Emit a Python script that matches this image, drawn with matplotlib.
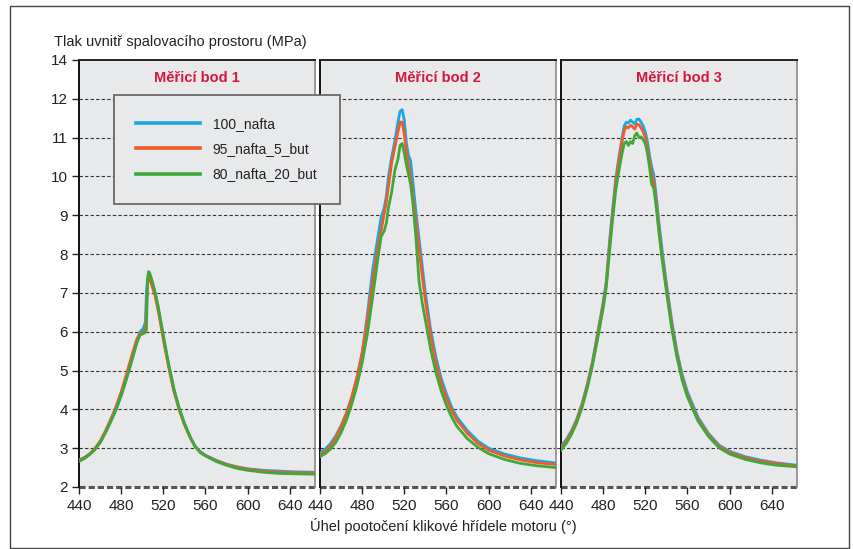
import matplotlib
matplotlib.use("Agg")
import matplotlib.pyplot as plt
from matplotlib.patches import Rectangle

plt.rcParams['font.family'] = ['Liberation Sans', 'DejaVu Sans']

# ---------------- data ----------------
series_names = ["100_nafta", "95_nafta_5_but", "80_nafta_20_but"]
panel_titles = ["Měřicí bod 1", "Měřicí bod 2", "Měřicí bod 3"]
x_ticks = [440, 480, 520, 560, 600, 640]
y_ticks = [2, 3, 4, 5, 6, 7, 8, 9, 10, 11, 12, 13]
y_tick_labels = ["2", "3", "4", "5", "6", "7", "8", "9", "10", "11", "12", "14"]
y_label = "Tlak uvnitř spalovacího prostoru (MPa)"
x_label = "Úhel pootočení klikové hřídele motoru (°)"

# panel 1
angle_1 = [440, 445, 450, 455, 460, 465, 470, 475, 480, 485, 490, 495, 498, 501, 503, 504,
           505, 506, 507, 509, 512, 515, 518, 521, 525, 530, 535, 540, 545, 550, 555, 560,
           570, 580, 590, 600, 615, 630, 645, 664]
p1_100 = [2.70, 2.76, 2.85, 2.97, 3.15, 3.40, 3.68, 3.98, 4.35, 4.78, 5.25, 5.75, 6.00, 6.08, 6.25, 7.00,
          7.35, 7.42, 7.40, 7.25, 7.00, 6.62, 6.18, 5.72, 5.15, 4.52, 4.03, 3.64, 3.32, 3.06, 2.91, 2.82,
          2.69, 2.59, 2.52, 2.47, 2.43, 2.41, 2.39, 2.38]
p1_95 = [2.68, 2.75, 2.85, 2.99, 3.18, 3.44, 3.74, 4.06, 4.45, 4.90, 5.38, 5.82, 5.95, 6.00, 6.05, 6.50,
         7.25, 7.38, 7.36, 7.20, 6.95, 6.57, 6.12, 5.66, 5.10, 4.47, 3.99, 3.61, 3.30, 3.05, 2.90, 2.81,
         2.68, 2.58, 2.51, 2.46, 2.41, 2.38, 2.37, 2.36]
p1_80 = [2.66, 2.73, 2.83, 2.96, 3.14, 3.39, 3.68, 3.99, 4.36, 4.78, 5.25, 5.72, 5.92, 5.95, 5.98, 6.05,
         7.35, 7.55, 7.52, 7.35, 7.05, 6.68, 6.22, 5.76, 5.18, 4.54, 4.04, 3.64, 3.32, 3.05, 2.89, 2.80,
         2.66, 2.56, 2.48, 2.43, 2.38, 2.35, 2.34, 2.33]

# panel 2
angle_2 = [440, 445, 450, 455, 460, 465, 470, 475, 480, 485, 490, 495, 498, 501, 503, 505, 508, 511,
           514, 516, 518, 520, 522, 524, 526, 528, 531, 534, 537, 540, 545, 550, 555, 560, 565, 570,
           580, 590, 600, 615, 630, 645, 664]
p2_100 = [2.88, 2.98, 3.12, 3.32, 3.58, 3.90, 4.30, 4.80, 5.45, 6.45, 7.60, 8.45, 8.95, 9.20, 9.50, 10.00, 10.50, 10.90,
          11.40, 11.68, 11.72, 11.45, 10.85, 10.55, 10.40, 9.90, 9.10, 8.40, 7.70, 7.00, 6.05, 5.35,
          4.80, 4.40, 4.05, 3.80, 3.45, 3.18, 3.00, 2.85, 2.75, 2.68, 2.62]
p2_95 = [2.82, 2.92, 3.06, 3.27, 3.55, 3.88, 4.30, 4.82, 5.45, 6.30, 7.30, 8.20, 8.60, 9.05, 9.35, 9.75, 10.35, 10.75,
         11.15, 11.40, 11.40, 11.10, 10.60, 10.30, 10.00, 9.55, 8.85, 8.15, 7.45, 6.80, 5.90, 5.20,
         4.68, 4.28, 3.97, 3.72, 3.38, 3.12, 2.95, 2.80, 2.70, 2.63, 2.58]
p2_80 = [2.78, 2.86, 2.98, 3.15, 3.40, 3.72, 4.12, 4.60, 5.20, 5.95, 6.90, 7.90, 8.45, 8.60, 8.80, 9.20, 9.60, 10.15,
         10.45, 10.80, 10.85, 10.60, 10.30, 10.05, 9.80, 9.35, 8.45, 7.30, 6.75, 6.30, 5.55, 4.95,
         4.48, 4.10, 3.80, 3.56, 3.24, 3.02, 2.86, 2.71, 2.61, 2.55, 2.50]

# panel 3
angle_3 = [440, 445, 450, 455, 460, 465, 470, 475, 480, 483, 486, 489, 492, 495, 498, 500, 502, 504,
           506, 508, 510, 512, 514, 516, 518, 520, 522, 524, 526, 528, 530, 533, 536, 540, 545, 550,
           555, 560, 570, 580, 590, 600, 615, 630, 645, 664]
p3_100 = [3.05, 3.22, 3.45, 3.75, 4.15, 4.65, 5.25, 6.00, 6.75, 7.30, 8.30, 9.15, 9.95, 10.50, 11.00, 11.30, 11.40, 11.38,
          11.45, 11.40, 11.35, 11.47, 11.48, 11.40, 11.30, 11.15, 10.90, 10.55, 10.25, 10.05, 9.60, 8.80,
          8.10, 7.25, 6.30, 5.50, 4.90, 4.45, 3.80, 3.38, 3.08, 2.92, 2.78, 2.69, 2.62, 2.56]
p3_95 = [3.00, 3.18, 3.42, 3.72, 4.12, 4.62, 5.22, 5.95, 6.70, 7.25, 8.20, 9.05, 9.85, 10.40, 10.90, 11.18, 11.28, 11.25,
         11.32, 11.28, 11.22, 11.35, 11.33, 11.25, 11.15, 11.00, 10.75, 10.40, 10.10, 9.85, 9.45, 8.65,
         7.95, 7.15, 6.20, 5.42, 4.82, 4.38, 3.75, 3.34, 3.05, 2.89, 2.75, 2.66, 2.60, 2.54]
p3_80 = [2.95, 3.12, 3.36, 3.66, 4.05, 4.55, 5.15, 5.85, 6.60, 7.15, 8.05, 8.90, 9.65, 10.15, 10.60, 10.85, 10.90, 10.80,
         10.90, 10.85, 11.05, 11.12, 11.00, 11.02, 10.95, 10.85, 10.60, 10.25, 9.80, 9.70, 9.30, 8.55,
         7.85, 7.05, 6.10, 5.35, 4.75, 4.32, 3.70, 3.30, 3.01, 2.85, 2.71, 2.62, 2.56, 2.52]

panels = [
    (angle_1, [p1_100, p1_95, p1_80]),
    (angle_2, [p2_100, p2_95, p2_80]),
    (angle_3, [p3_100, p3_95, p3_80]),
]

# ---------------- style ----------------
colors = ["#1ba7e1", "#f15a29", "#3fa83a"]
W, H = 854, 549
panel_left_px = [79, 320, 561]
panel_w_px = 236
panel_top_px, panel_bot_px = 60, 487
xlim = (440, 664)
ylim = (2, 13)
bg_col = "#e8e9eb"
grid_col = "#333333"
text_col = "#222222"
title_col = "#d4173d"

fig = plt.figure(figsize=(W / 100, H / 100), dpi=100)

def frac_rect(lpx, wpx):
    return [lpx / W, (H - panel_bot_px) / H, wpx / W, (panel_bot_px - panel_top_px) / H]

# background axes for gridlines running across the gaps
bg = fig.add_axes(frac_rect(panel_left_px[0], panel_left_px[-1] + panel_w_px - panel_left_px[0]), zorder=0)
bg.set_xlim(0, 1)
bg.set_ylim(*ylim)
bg.axis("off")
for yv in y_ticks[1:-1]:
    bg.axhline(yv, color=grid_col, lw=0.8, ls=(0, (3, 2)))

axes = []
for i, (angles, vals) in enumerate(panels):
    ax = fig.add_axes(frac_rect(panel_left_px[i], panel_w_px), zorder=1)
    ax.set_facecolor(bg_col)
    ax.set_xlim(*xlim)
    ax.set_ylim(*ylim)
    for yv in y_ticks[1:-1]:
        ax.axhline(yv, color=grid_col, lw=0.8, ls=(0, (3, 2)), zorder=1)
    ax.axhline(y_ticks[0], color="#555555", lw=2.2, ls=(0, (2, 1)), zorder=1, clip_on=False)
    for s, (v, c) in enumerate(zip(vals, colors)):
        ax.plot(angles, v, color=c, lw=2.0, zorder=3 + s, solid_joinstyle="round",
                label=series_names[s])
    ax.set_xticks(x_ticks)
    ax.set_xticklabels([str(t) for t in x_ticks])
    ax.tick_params(axis="x", direction="out", length=5, width=1, color="#222222",
                   labelsize=11, labelcolor=text_col, pad=4)
    ax.set_yticks(y_ticks)
    if i == 0:
        ax.set_yticklabels(y_tick_labels)
        ax.tick_params(axis="y", direction="out", length=5, width=1, color="#222222",
                       labelsize=11, labelcolor=text_col, pad=3)
    else:
        ax.tick_params(axis="y", length=0, labelleft=False)
    ax.spines["left"].set_color("#111111")
    ax.spines["left"].set_linewidth(1.4)
    ax.spines["top"].set_color("#222222")
    ax.spines["top"].set_linewidth(1.4)
    ax.spines["right"].set_color("#8a8a8a")
    ax.spines["right"].set_linewidth(1.2)
    ax.spines["bottom"].set_visible(False)
    ax.text(0.5, 1 - 18 / (panel_bot_px - panel_top_px), panel_titles[i], transform=ax.transAxes,
            ha="center", va="center", color=title_col, fontsize=10.5, fontweight="bold")
    axes.append(ax)

# legend
handles, labels = axes[0].get_legend_handles_labels()
leg = fig.legend(handles, labels, loc="upper left", bbox_to_anchor=(114 / W, 1 - 95 / H),
                 bbox_transform=fig.transFigure, fontsize=10, frameon=True, fancybox=False,
                 framealpha=1, facecolor=bg_col, edgecolor="#6a6a6a", handlelength=4.6,
                 handletextpad=0.9, labelspacing=0.8, borderpad=1.6, borderaxespad=0)
leg.get_frame().set_linewidth(1.3)
for t in leg.get_texts():
    t.set_color(text_col)
for l in leg.get_lines():
    l.set_linewidth(2.6)

# axis labels
fig.text(54 / W, 1 - 42 / H, y_label, ha="left", va="center", fontsize=10.5, color=text_col)
fig.text(443 / W, 1 - 526 / H, x_label, ha="center", va="center", fontsize=10.5, color=text_col)

# outer frame
fig.add_artist(Rectangle((10 / W, 1 / H), 839 / W, (H - 7) / H, transform=fig.transFigure,
                         fill=False, edgecolor="#444444", lw=1.0))

fig.savefig("out.png", dpi=100)
